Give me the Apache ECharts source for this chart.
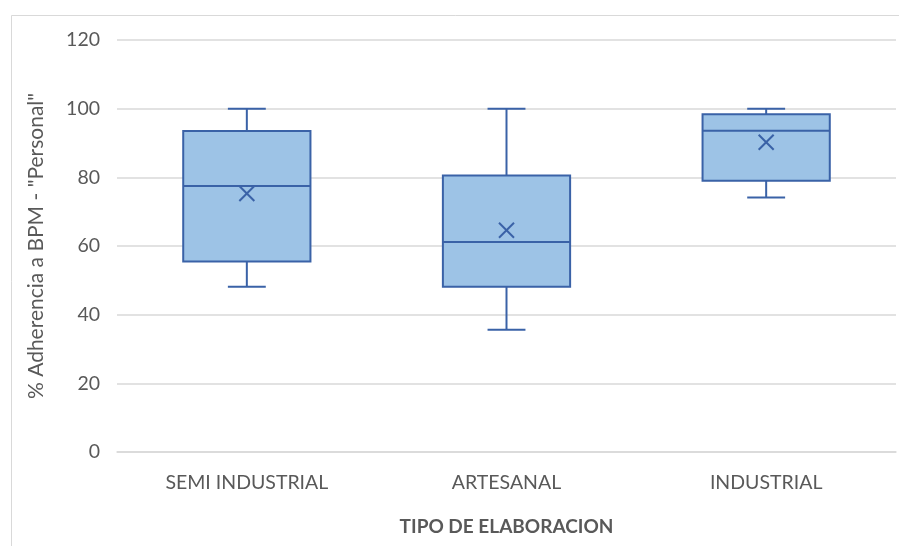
<!DOCTYPE html>
<html>
<head>
<meta charset="utf-8">
<script src="https://cdn.jsdelivr.net/npm/echarts@6/dist/echarts.min.js"></script>
<style>
  html, body { margin: 0; padding: 0; background: #ffffff; }
  #chart { width: 899px; height: 546px; }
</style>
</head>
<body>
<div id="chart"></div>
<script>
// Box-and-whisker summary per production type
const categories = ['SEMI INDUSTRIAL', 'ARTESANAL', 'INDUSTRIAL'];
const whiskerLow = [48.1, 35.6, 74.1];
const quartile1 = [55.5, 48.1, 79.0];
const medians = [77.5, 61.2, 93.6];
const quartile3 = [93.5, 80.5, 98.4];
const whiskerHigh = [100, 100, 100];
const means = [75.3, 64.6, 90.2];
const yTicks = [0, 20, 40, 60, 80, 100, 120];

const FONT = 'Lato';
const TEXT = '#595959';
const STROKE = '#3A62A7';
const FILL = '#9DC3E6';

const rows = categories.map((c, i) => [i, whiskerLow[i], quartile1[i], medians[i], quartile3[i], whiskerHigh[i], means[i]]);

function renderBox(params, api) {
  const idx = api.value(0);
  const band = api.size([1, 0])[0];
  const half = band * 0.245;
  const cap = band * 0.073;
  const pLow = api.coord([idx, api.value(1)]);
  const pQ1 = api.coord([idx, api.value(2)]);
  const pMed = api.coord([idx, api.value(3)]);
  const pQ3 = api.coord([idx, api.value(4)]);
  const pHigh = api.coord([idx, api.value(5)]);
  const pMean = api.coord([idx, api.value(6)]);
  const cx = pQ1[0];
  const lineStyle = { stroke: STROKE, lineWidth: 2, fill: null };
  const m = 7.5;
  return {
    type: 'group',
    children: [
      { type: 'line', shape: { x1: cx, y1: pHigh[1], x2: cx, y2: pQ3[1] }, style: lineStyle },
      { type: 'line', shape: { x1: cx, y1: pQ1[1], x2: cx, y2: pLow[1] }, style: lineStyle },
      { type: 'line', shape: { x1: cx - cap, y1: pHigh[1], x2: cx + cap, y2: pHigh[1] }, style: lineStyle },
      { type: 'line', shape: { x1: cx - cap, y1: pLow[1], x2: cx + cap, y2: pLow[1] }, style: lineStyle },
      { type: 'rect', shape: { x: cx - half, y: pQ3[1], width: half * 2, height: pQ1[1] - pQ3[1] },
        style: { fill: FILL, stroke: STROKE, lineWidth: 2 } },
      { type: 'line', shape: { x1: cx - half, y1: pMed[1], x2: cx + half, y2: pMed[1] }, style: lineStyle },
      { type: 'line', shape: { x1: cx - m, y1: pMean[1] - m, x2: cx + m, y2: pMean[1] + m }, style: lineStyle },
      { type: 'line', shape: { x1: cx - m, y1: pMean[1] + m, x2: cx + m, y2: pMean[1] - m }, style: lineStyle }
    ]
  };
}

const chart = echarts.init(document.getElementById('chart'), null, { renderer: 'canvas' });
chart.setOption({
  animation: false,
  backgroundColor: '#ffffff',
  textStyle: { fontFamily: FONT },
  graphic: [
    { type: 'rect', left: 9, top: 13, shape: { width: 920, height: 600 },
      style: { fill: null, stroke: '#D9D9D9', lineWidth: 1 }, silent: true }
  ],
  grid: { left: 117, right: 3, top: 40, bottom: 94 },
  xAxis: {
    type: 'category',
    data: categories,
    axisLine: { lineStyle: { color: '#D9D9D9', width: 1.5 } },
    axisTick: { show: false },
    axisLabel: { color: TEXT, fontSize: 19.5, fontFamily: FONT, margin: 21 },
    name: 'TIPO DE ELABORACION',
    nameLocation: 'middle',
    nameGap: 65,
    nameTextStyle: { color: TEXT, fontSize: 19, fontWeight: 'bold', fontFamily: FONT }
  },
  yAxis: {
    type: 'value',
    min: yTicks[0],
    max: yTicks[yTicks.length - 1],
    interval: yTicks[1] - yTicks[0],
    axisLine: { show: false },
    axisTick: { show: false },
    splitLine: { lineStyle: { color: '#D9D9D9', width: 1.5 } },
    axisLabel: { color: TEXT, fontSize: 19.5, fontFamily: FONT, margin: 17 },
    name: '% Adherencia a BPM - "Personal"',
    nameLocation: 'middle',
    nameGap: 70,
    nameTextStyle: { color: TEXT, fontSize: 21, fontFamily: FONT }
  },
  series: [{
    type: 'custom',
    renderItem: renderBox,
    encode: { x: 0, y: [1, 2, 3, 4, 5, 6] },
    data: rows,
    clip: false
  }]
});
</script>
</body>
</html>
